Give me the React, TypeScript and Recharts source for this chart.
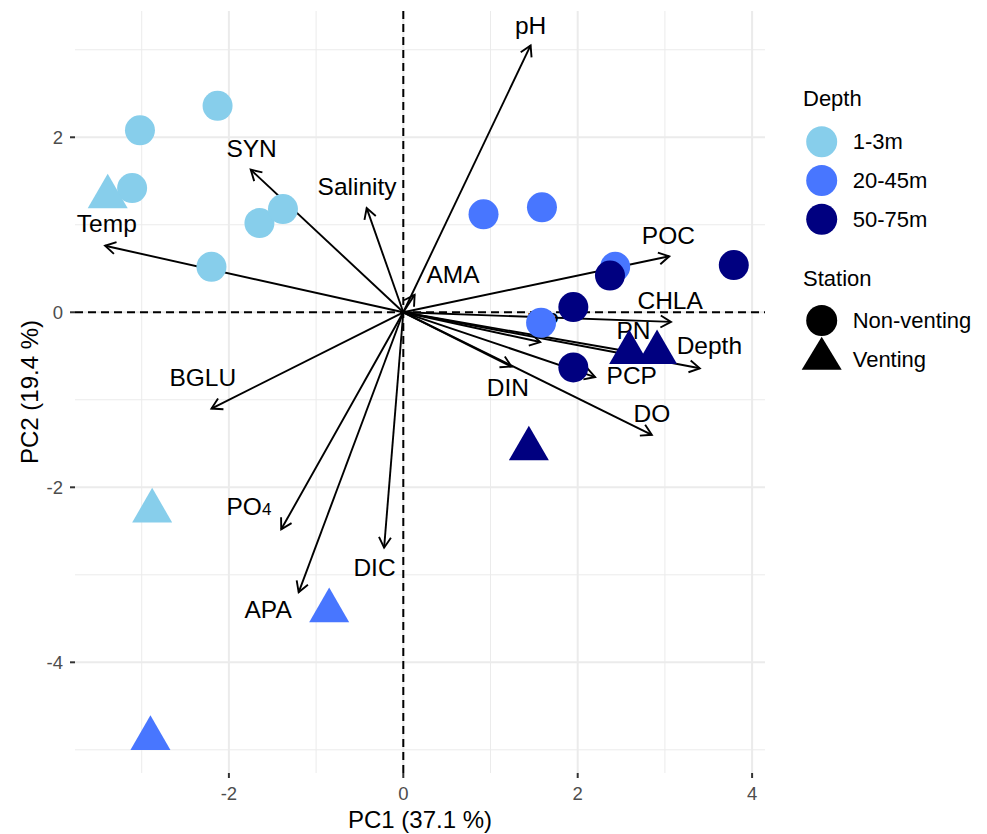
import React from "react"
import { ScatterChart, Scatter, XAxis, YAxis, ReferenceLine, Label } from "recharts"

// legend groups
const depthGroups = ["1-3m", "20-45m", "50-75m"]
const depthColors = ["#87CEEB", "#4876FF", "#000080"]
const stations = ["Non-venting", "Venting"]

// sample scores (PC1, PC2) by depth and station
const shallowNonVenting = [
  { pc1: -2.13, pc2: 2.36 },
  { pc1: -3.02, pc2: 2.08 },
  { pc1: -3.11, pc2: 1.42 },
  { pc1: -1.65, pc2: 1.02 },
  { pc1: -1.38, pc2: 1.18 },
  { pc1: -2.2, pc2: 0.52 },
]
const shallowVenting = [
  { pc1: -3.39, pc2: 1.32 },
  { pc1: -2.88, pc2: -2.27 },
]
const midNonVenting = [
  { pc1: 0.92, pc2: 1.12 },
  { pc1: 1.59, pc2: 1.2 },
  { pc1: 2.43, pc2: 0.52 },
  { pc1: 1.58, pc2: -0.12 },
]
const midVenting = [
  { pc1: -0.85, pc2: -3.41 },
  { pc1: -2.9, pc2: -4.87 },
]
const deepNonVenting = [
  { pc1: 2.37, pc2: 0.42 },
  { pc1: 3.79, pc2: 0.54 },
  { pc1: 1.95, pc2: 0.06 },
  { pc1: 1.95, pc2: -0.63 },
]
const deepVenting = [
  { pc1: 2.59, pc2: -0.46 },
  { pc1: 2.91, pc2: -0.46 },
  { pc1: 1.44, pc2: -1.56 },
]

// variable loadings (arrow tips) and label positions
const variables = ["pH", "Salinity", "SYN", "Temp", "AMA", "BGLU", "PO4", "APA", "DIC", "POC", "CHLA", "PN", "Depth", "PCP", "DIN", "DO", "BP"]
const loadPC1 = [1.46, -0.42, -1.75, -3.42, 0.13, -2.2, -1.4, -1.2, -0.22, 3.05, 3.07, 2.65, 3.4, 2.2, 1.24, 2.85, 1.57]
const loadPC2 = [3.05, 1.19, 1.63, 0.76, 0.2, -1.1, -2.48, -3.2, -2.69, 0.64, -0.11, -0.46, -0.64, -0.74, -0.62, -1.4, -0.34]
const labelPC1 = [1.46, -0.53, -1.74, -3.4, 0.57, -2.3, -1.77, -1.55, -0.33, 3.04, 3.06, 2.64, 3.51, 2.62, 1.2, 2.85, 1.6]
const labelPC2 = [3.28, 1.44, 1.87, 1.01, 0.43, -0.75, -2.22, -3.39, -2.92, 0.88, 0.14, -0.21, -0.38, -0.72, -0.86, -1.16, -0.1]

const xMajor = [-2, 0, 2, 4]
const xMinor = [-3, -1, 1, 3]
const yMajor = [2, 0, -2, -4]
const yMinor = [3, 1, -1, -3, -5]

const FONT = "'Liberation Sans', Arial, Helvetica, sans-serif"

const labelData = variables.map((name, i) => ({ pc1: labelPC1[i], pc2: labelPC2[i], name }))

function ArrowShape(props: any) {
  const { x1, y1, x2, y2 } = props
  const ang = Math.atan2(y2 - y1, x2 - x1)
  const len = 12
  const spread = Math.PI / 6
  const ax = x2 - len * Math.cos(ang - spread)
  const ay = y2 - len * Math.sin(ang - spread)
  const bx = x2 - len * Math.cos(ang + spread)
  const by = y2 - len * Math.sin(ang + spread)
  return (
    <g>
      <line x1={x1} y1={y1} x2={x2} y2={y2} stroke="#000" strokeWidth={1.9} />
      <polyline points={`${ax},${ay} ${x2},${y2} ${bx},${by}`} fill="none" stroke="#000" strokeWidth={1.9} />
    </g>
  )
}

function VarLabel(props: any) {
  const { cx, cy, payload } = props
  const name: string = payload.name
  if (name === "PO4") {
    return (
      <text x={cx} y={cy} dy="0.35em" textAnchor="middle" fontSize={24.5} fontFamily={FONT} fill="#000">
        PO<tspan fontSize={17}>4</tspan>
      </text>
    )
  }
  return (
    <text x={cx} y={cy} dy="0.35em" textAnchor="middle" fontSize={24.5} fontFamily={FONT} fill="#000">
      {name}
    </text>
  )
}

function circleShape(color: string) {
  return (props: any) => <circle cx={props.cx} cy={props.cy} r={15} fill={color} />
}

function triangleShape(color: string) {
  return (props: any) => {
    const { cx, cy } = props
    return <polygon points={`${cx},${cy - 23.1} ${cx + 20},${cy + 11.55} ${cx - 20},${cy + 11.55}`} fill={color} />
  }
}

function Legend() {
  return (
    <svg width={987} height={834} style={{ position: "absolute", left: 0, top: 0, pointerEvents: "none" }} fontFamily={FONT}>
      <text x={803} y={106} fontSize={22} fill="#000">Depth</text>
      {depthGroups.map((g, i) => (
        <g key={g}>
          <circle cx={821.7} cy={141.7 + i * 38.8} r={15.5} fill={depthColors[i]} />
          <text x={852.7} y={141.7 + i * 38.8} dy="0.35em" fontSize={22} fill="#000">{g}</text>
        </g>
      ))}
      <text x={803} y={285.7} fontSize={22} fill="#000">Station</text>
      {stations.map((s, i) => {
        const cy = 320.5 + i * 38.3
        return (
          <g key={s}>
            {i === 0 ? (
              <circle cx={821.7} cy={cy} r={15.5} fill="#000" />
            ) : (
              <polygon points={`821.7,${cy - 22} ${841.7},${cy + 11} ${801.7},${cy + 11}`} fill="#000" />
            )}
            <text x={852.7} y={cy} dy="0.35em" fontSize={22} fill="#000">{s}</text>
          </g>
        )
      })}
    </svg>
  )
}

export default function App() {
  const tickStyle = { fill: "#4d4d4d", fontSize: 18.5, fontFamily: FONT }
  return (
    <div style={{ position: "absolute", left: 0, top: 0, width: 987, height: 834, background: "#fff", fontFamily: FONT }}>
      <ScatterChart width={987} height={834} margin={{ top: 11, right: 222, bottom: 0, left: 0 }}>
        <XAxis
          type="number"
          dataKey="pc1"
          domain={[-3.765, 4.148]}
          ticks={xMajor}
          allowDataOverflow
          axisLine={false}
          tickSize={5}
          tickMargin={9}
          tick={tickStyle}
          tickLine={{ stroke: "#333", strokeWidth: 2 }}
          height={61}
        >
          <Label
            content={(p: any) => {
              const vb = p.viewBox
              return (
                <text x={vb.x + vb.width / 2} y={vb.y + 46.5} dy="0.35em" textAnchor="middle" fontSize={24} fontFamily={FONT} fill="#000">
                  PC1 (37.1 %)
                </text>
              )
            }}
          />
        </XAxis>
        <YAxis
          type="number"
          dataKey="pc2"
          domain={[-5.265, 3.443]}
          ticks={yMajor}
          allowDataOverflow
          axisLine={false}
          tickSize={5}
          tickMargin={7}
          tick={tickStyle}
          tickLine={{ stroke: "#333", strokeWidth: 2 }}
          width={75}
        >
          <Label
            content={(p: any) => {
              const vb = p.viewBox
              const cy = vb.y + vb.height / 2
              return (
                <text x={30} y={cy} dy="0.35em" textAnchor="middle" fontSize={24} fontFamily={FONT} fill="#000" transform={`rotate(-90, 30, ${cy})`}>
                  PC2 (19.4 %)
                </text>
              )
            }}
          />
        </YAxis>

        {xMinor.map((v) => (
          <ReferenceLine key={"xm" + v} x={v} stroke="#ebebeb" strokeWidth={1} zIndex={-50} />
        ))}
        {yMinor.map((v) => (
          <ReferenceLine key={"ym" + v} y={v} stroke="#ebebeb" strokeWidth={1} zIndex={-50} />
        ))}
        {xMajor.map((v) => (
          <ReferenceLine key={"xM" + v} x={v} stroke="#ebebeb" strokeWidth={2} zIndex={-40} />
        ))}
        {yMajor.map((v) => (
          <ReferenceLine key={"yM" + v} y={v} stroke="#ebebeb" strokeWidth={2} zIndex={-40} />
        ))}

        <ReferenceLine x={0} stroke="#000" strokeWidth={2} strokeDasharray="8 5" zIndex={100} />
        <ReferenceLine y={0} stroke="#000" strokeWidth={2} strokeDasharray="8 5" zIndex={100} />

        {variables.map((v, i) => (
          <ReferenceLine
            key={"arr" + v}
            segment={[{ x: 0, y: 0 }, { x: loadPC1[i], y: loadPC2[i] }]}
            shape={(p: any) => <ArrowShape {...p} />}
            zIndex={200}
          />
        ))}

        <Scatter data={labelData} shape={(p: any) => <VarLabel {...p} />} isAnimationActive={false} zIndex={550} />

        <Scatter data={shallowNonVenting} shape={circleShape(depthColors[0])} isAnimationActive={false} zIndex={600} />
        <Scatter data={shallowVenting} shape={triangleShape(depthColors[0])} isAnimationActive={false} zIndex={600} />
        <Scatter data={midNonVenting} shape={circleShape(depthColors[1])} isAnimationActive={false} zIndex={600} />
        <Scatter data={midVenting} shape={triangleShape(depthColors[1])} isAnimationActive={false} zIndex={600} />
        <Scatter data={deepNonVenting} shape={circleShape(depthColors[2])} isAnimationActive={false} zIndex={600} />
        <Scatter data={deepVenting} shape={triangleShape(depthColors[2])} isAnimationActive={false} zIndex={600} />
      </ScatterChart>
      <Legend />
    </div>
  )
}
